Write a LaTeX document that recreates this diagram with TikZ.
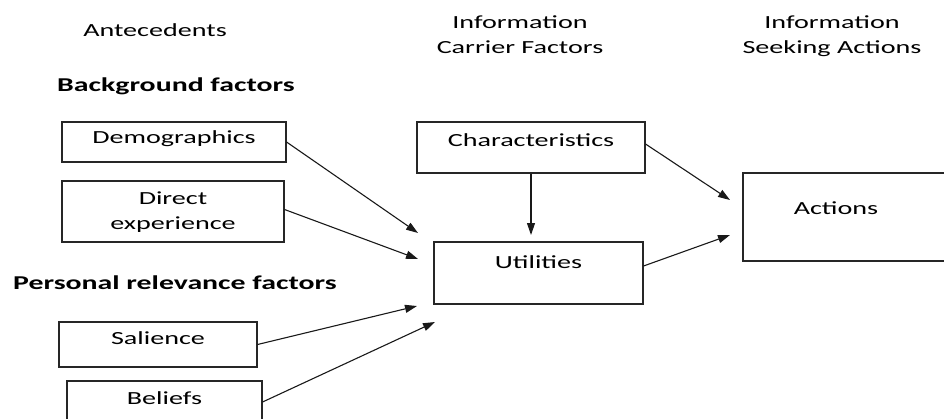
\documentclass[tikz,border=0pt]{standalone}
\usepackage{fontspec}
\setmainfont{Carlito}[FakeStretch=1.52]
\usetikzlibrary{arrows.meta}
\begin{document}
\begin{tikzpicture}[x=1pt,y=-1pt,
  box/.style={draw=black!85, line width=1.1pt, inner sep=0pt,
    font=\fontsize{18.5}{25}\selectfont},
  lbl/.style={inner sep=0pt, anchor=base, font=\fontsize{18.5}{25}\selectfont},
  hd/.style={inner sep=0pt, anchor=base west, font=\fontsize{19.6}{25}\selectfont\bfseries},
  arr/.style={-{Triangle[length=12pt,width=8pt]}, line width=1.1pt, draw=black!90}]
\useasboundingbox (0,0) rectangle (944,418);

% headings
\node[lbl] (ante) at (155,36) {Antecedents};
\node[lbl] (carrier) at (520,28) {\begin{tabular}[t]{@{}c@{}}Information\\Carrier Factors\end{tabular}};
\node[lbl] (seeking) at (832,28) {\begin{tabular}[t]{@{}c@{}}Information\\Seeking Actions\end{tabular}};
\node[hd] (bg) at (57,91) {Background factors};
\node[hd] (pr) at (13,289) {Personal relevance factors};

% boxes
\node[box, minimum width=224pt, text height=21pt, text depth=19pt] (demo) at (174,142) {Demographics};
\node[box, minimum width=222pt, text height=23pt, text depth=38pt] (direct) at (173,211.5)
  {\begin{tabular}[t]{@{}c@{}}Direct\\experience\end{tabular}};
\node[box, minimum width=198pt, text height=22pt, text depth=23pt] (sal) at (158,344.5) {Salience};
\node[box, minimum width=195pt, text height=23pt, text depth=19pt] (bel) at (164.5,402) {Beliefs};
\node[box, minimum width=228pt, text height=24pt, text depth=27pt] (char) at (531,147.5) {Characteristics};
\node[box, minimum width=209pt, text height=26pt, text depth=36pt] (util) at (538.5,273) {Utilities};
\node[box, minimum width=260pt, text height=41pt, text depth=47pt] (act) at (873,217) {Actions\hspace*{74pt}};

% arrow ends
\coordinate (t1) at (418,233);
\coordinate (t2) at (418,259);
\coordinate (t3) at (417,306);
\coordinate (t4) at (435,322);
\coordinate (t5) at (531,235);
\coordinate (t6) at (730,200);
\coordinate (t7) at (730,235);

\draw[arr] (demo.east) -- (t1);
\draw[arr] ([yshift=2pt]direct.east) -- (t2);
\draw[arr] (sal.east) -- (t3);
\draw[arr] (bel.east) -- (t4);
\draw[arr] (char.south) -- (t5);
\draw[arr] ([yshift=3.5pt]char.east) -- (t6);
\draw[arr] ([yshift=7pt]util.east) -- (t7);
\end{tikzpicture}
\end{document}
